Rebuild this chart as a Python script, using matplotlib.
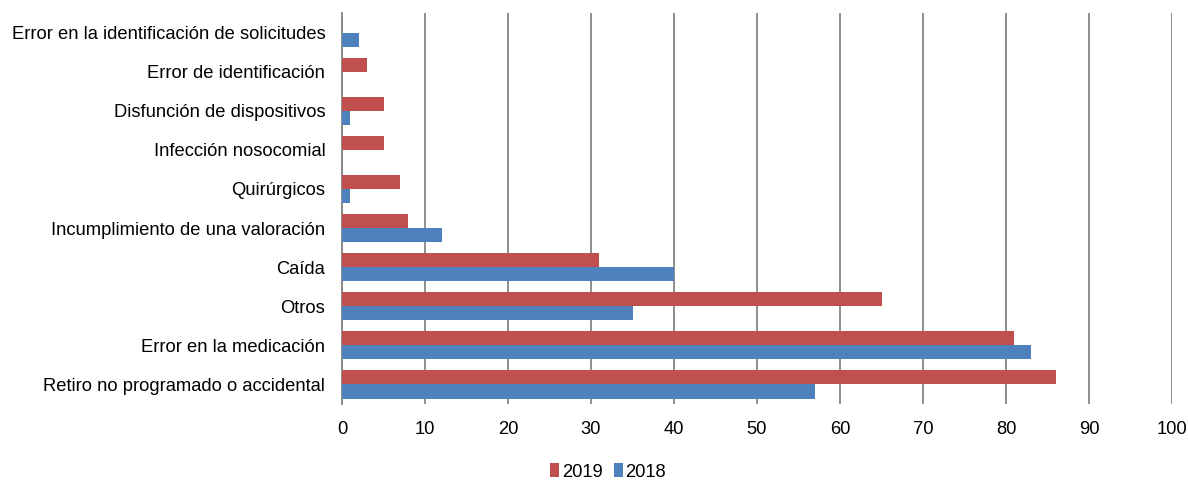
import matplotlib
matplotlib.use("Agg")
import matplotlib.pyplot as plt
import numpy as np

plt.rcParams['font.family'] = ['Liberation Sans', 'DejaVu Sans']

categories = [
    "Retiro no programado o accidental",
    "Error en la medicación",
    "Otros",
    "Caída",
    "Incumplimiento de una valoración",
    "Quirúrgicos",
    "Infección nosocomial",
    "Disfunción de dispositivos",
    "Error de identificación",
    "Error en la identificación de solicitudes",
]
values_2019 = [86, 81, 65, 31, 8, 7, 5, 5, 3, 0]
values_2018 = [57, 83, 35, 40, 12, 1, 0, 1, 0, 2]
xticks = [0, 10, 20, 30, 40, 50, 60, 70, 80, 90, 100]

fig = plt.figure(figsize=(11.88, 4.8), dpi=100)
ax = fig.add_axes([342/1188, 1-404/480, (1172-342)/1188, (404-13)/480])

y = np.arange(len(categories))
h = 0.36
ax.barh(y + h/2, values_2019, height=h, color='#C0504D', label='2019', zorder=3)
ax.barh(y - h/2, values_2018, height=h, color='#4F81BD', label='2018', zorder=3)

ax.set_xlim(0, 100)
ax.set_ylim(-0.5, len(categories) - 0.5)
ax.set_xticks(xticks)
ax.set_yticks(y)
ax.set_yticklabels(categories)
ax.tick_params(axis='both', length=0, labelsize=13.2, colors='black')
ax.tick_params(axis='x', pad=12)
ax.tick_params(axis='y', pad=12)
ax.grid(axis='x', color='#868686', linewidth=1.3, zorder=0)
for s in ['top', 'right', 'bottom']:
    ax.spines[s].set_visible(False)
ax.spines['left'].set_color('#868686')
ax.spines['left'].set_linewidth(1.3)

leg = fig.legend(loc='center', bbox_to_anchor=(608/1188, 1-472/480), ncol=2,
                 frameon=False, fontsize=13.2, handlelength=0.5, handleheight=0.8,
                 handletextpad=0.15, columnspacing=0.6)

fig.savefig('out.png', dpi=100)
